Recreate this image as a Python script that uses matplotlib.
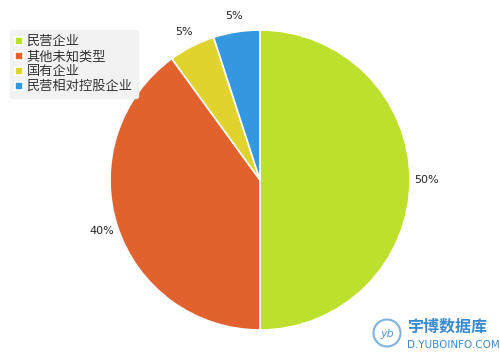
import matplotlib.pyplot as plt
from matplotlib.patches import Circle

plt.rcParams['font.family'] = ['Noto Sans CJK SC', 'DejaVu Sans']

# data
categories = ['民营企业', '其他未知类型', '国有企业', '民营相对控股企业']
shares = [50, 40, 5, 5]
colors = ['#bde02c', '#e2622e', '#e0d32e', '#3398e0']

fig = plt.figure(figsize=(5, 3.6), dpi=100)
ax = fig.add_axes([0.22, 30 / 360, 0.6, 300 / 360])

wedges, texts, autotexts = ax.pie(
    shares, colors=colors, startangle=90, counterclock=False,
    autopct='%d%%', pctdistance=1.11, radius=1.0,
    wedgeprops=dict(edgecolor='white', linewidth=1.2),
    textprops=dict(fontsize=8, color='#222222', family='DejaVu Sans'))
ax.set_xlim(-1, 1)
ax.set_ylim(-1, 1)
ax.set_aspect('equal')

leg = fig.legend(wedges, categories, loc='upper left',
                 bbox_to_anchor=(10 / 500, 1 - 30 / 360),
                 frameon=True, fancybox=True, fontsize=9.5,
                 handlelength=0.55, handleheight=0.55, handletextpad=0.3,
                 labelspacing=0.15, borderpad=0.4, borderaxespad=0)
leg.get_frame().set_facecolor('#f2f2f2')
leg.get_frame().set_edgecolor('#f2f2f2')
leg.get_frame().set_alpha(1)
for t in leg.get_texts():
    t.set_color('#333333')

# watermark
wm = fig.add_axes([372 / 500, 12 / 360, 30 / 500, 30 / 360])
wm.set_xlim(-1, 1)
wm.set_ylim(-1, 1)
wm.set_aspect('equal')
wm.axis('off')
wm.add_patch(Circle((0, 0), 0.9, fill=False, edgecolor='#7fb3e0', linewidth=1.5))
wm.text(0, -0.05, 'yb', ha='center', va='center', fontsize=8,
        style='italic', color='#5a9ad6', family='DejaVu Sans')
fig.text(407 / 500, 1 - 327 / 360, '宇博数据库', fontsize=11.5, color='#3a8ad0',
         weight='bold', ha='left', va='center')
fig.text(407 / 500, 1 - 345 / 360, 'D.YUBOINFO.COM', fontsize=7.5, color='#3a8ad0',
         ha='left', va='center', family='DejaVu Sans')

fig.savefig('out.png', dpi=100)
